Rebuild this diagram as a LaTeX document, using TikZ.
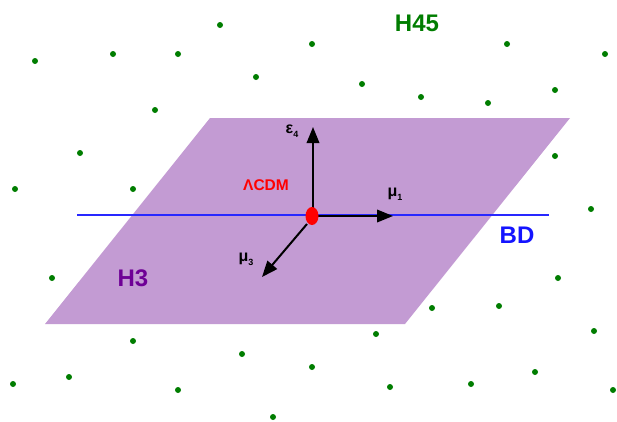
\documentclass[tikz,border=0pt]{standalone}
\usepackage{fontspec}
\setmainfont{Liberation Sans}
\usetikzlibrary{arrows.meta,shapes.geometric}
\definecolor{planefill}{RGB}{195,155,211}
\definecolor{dotgreen}{RGB}{0,125,0}
\definecolor{hthree}{RGB}{110,0,150}
\definecolor{bdblue}{RGB}{20,20,255}
\definecolor{lineblue}{RGB}{40,40,255}
\tikzset{
  gdot/.style={circle,fill=dotgreen,inner sep=0pt,minimum size=6pt},
  axisarrow/.style={line width=2pt,-{Triangle[length=16pt,width=12.5pt]}},
  biglabel/.style={font=\fontsize{24}{24}\selectfont\bfseries},
  greek/.style={font=\fontsize{16}{16}\selectfont\bfseries,inner sep=0pt},
}
\newcommand{\glab}[2]{#1\raisebox{-4pt}{\fontsize{9}{9}\selectfont\bfseries #2}}
\begin{document}
\begin{tikzpicture}[x=1pt,y=-1pt]
\useasboundingbox (0,0) rectangle (617,421);
% green dots (H45)
\foreach \px/\py [count=\i] in {220/25,35/61,113/54,178/54,256/77,155/110,80/153,15/189,133/189,
  312/44,507/44,605/54,362/84,421/97,488/103,555/90,555/156,591/209,
  52/278,133/341,242/354,69/377,13/384,178/390,273/417,
  558/278,432/308,499/306,376/334,594/331,312/367,390/387,471/384,535/372,613/390}
  \node[gdot] (d\i) at (\px,\py) {};
% plane H3
\fill[planefill] (210,118) -- (570,118) -- (405,324) -- (45,324) -- cycle;
% BD line
\coordinate (bdl) at (77,215);
\coordinate (bdr) at (549,215);
\draw[lineblue,line width=2pt] (bdl) -- (bdr);
% axes
\coordinate (o) at (313,216);
\coordinate (e4) at (313,127);
\coordinate (m1) at (393,216);
\coordinate (m3) at (262,277);
\draw[axisarrow] (o) -- (e4);
\draw[axisarrow] (o) -- (m1);
\draw[axisarrow] ([shift={(-6,8)}]o) -- (m3);
% LCDM point
\node[ellipse,fill=red,inner sep=0pt,minimum width=13pt,minimum height=18pt] (lcdm) at (312,216) {};
% labels
\node[greek] (le4) at (292,131) {\glab{ε}{4}};
\node[greek] (lm1) at (395,194) {\glab{μ}{1}};
\node[greek] (lm3) at (246,259) {\glab{μ}{3}};
\node[font=\fontsize{15.5}{15.5}\selectfont\bfseries,text=red] (llcdm) at (266,185) {ΛCDM};
\node[biglabel,text=dotgreen] (lh45) at (417,23) {H45};
\node[biglabel,text=hthree] (lh3) at (133,278) {H3};
\node[biglabel,text=bdblue] (lbd) at (517,235) {BD};
\end{tikzpicture}
\end{document}
